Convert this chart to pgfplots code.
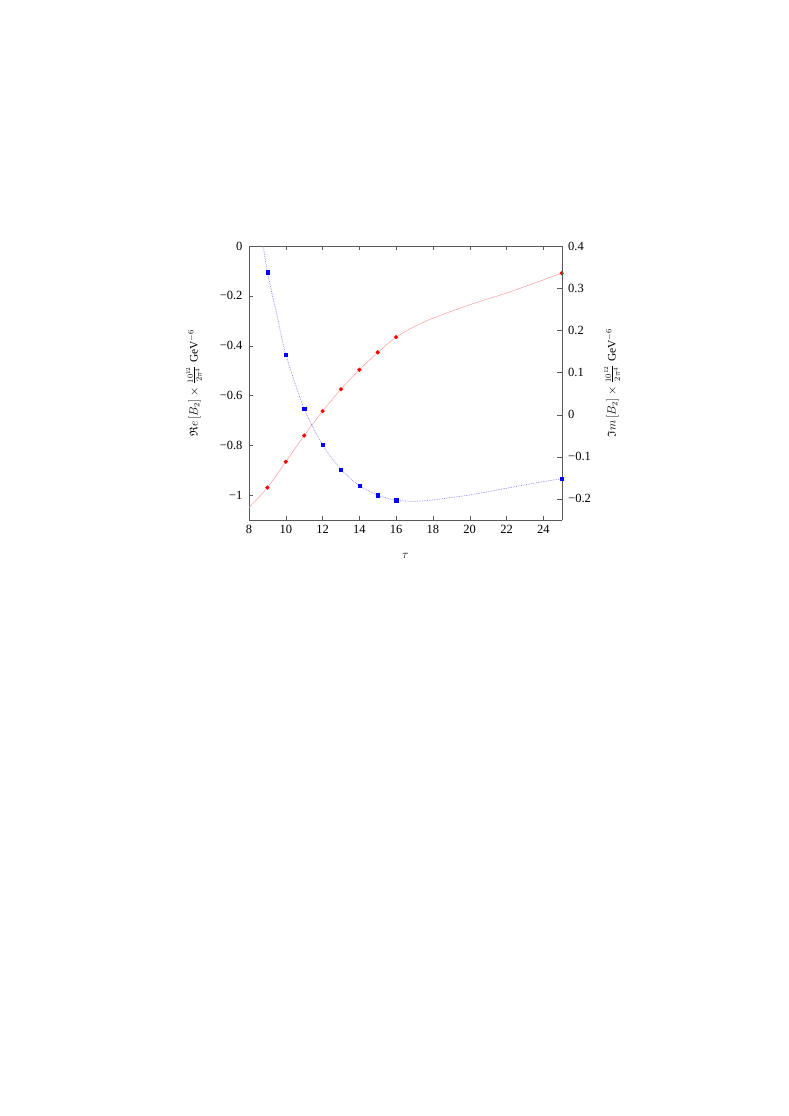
\documentclass[border=0pt]{standalone}
\usepackage{fontspec}
\setmainfont{Liberation Serif}
\usepackage{amssymb}
\usepackage{pgfplots}
\pgfplotsset{compat=1.18}
\pgfplotsset{
  common/.style={
    at={(249pt,596pt)}, anchor=south west, scale only axis,
    width=312.7pt, height=274pt,
    xmin=8, xmax=25,
    axis line style={black!65}, tick style={black!65},
    tick label style={font=\fontsize{12.5}{14}\selectfont},
    label style={font=\fontsize{11.5}{13}\selectfont},
    /pgf/number format/assume math mode=true,
  }
}
\begin{document}
\begin{tikzpicture}
\path[use as bounding box] (0pt,0pt) rectangle (789pt,1116pt);
\begin{axis}[
  common,
  ymin=-1.1, ymax=0,
  axis y line*=left,
  xtick={8,10,...,24},
  xtick pos=both,
  ytick={-1,-0.8,-0.6,-0.4,-0.2,0},
  yticklabels={−1,−0.8,−0.6,−0.4,−0.2,0},
  yticklabel style={xshift=-3pt},
  xticklabel style={yshift=-2pt},
  xlabel={\fontsize{12.5}{14}\selectfont$\tau$},
  xlabel style={at={(axis description cs:0.5,-0.131)}, anchor=center},
  ylabel={$\mathfrak{R}e\,[B_2]\times\frac{10^{12}}{2\pi^4}$ GeV$^{-6}$},
  ylabel style={at={(axis description cs:-0.176,0.5)}, anchor=center, rotate=0},
]
\addplot[red!45, thin, smooth, no marks] coordinates {
(8,-1.05)(9,-0.970)(10,-0.866)(11,-0.761)(12,-0.663)(13,-0.575)(14,-0.497)(15,-0.427)(16,-0.366)(17,-0.323)(18,-0.290)(20,-0.236)(22,-0.189)(24,-0.136)(25,-0.109)};
\addplot[only marks, mark=*, mark size=1.9pt, red] coordinates {
(9,-0.970)(10,-0.866)(11,-0.761)(12,-0.663)(13,-0.575)(14,-0.497)(15,-0.427)(16,-0.366)(25,-0.109)};
\end{axis}
\begin{axis}[
  common,
  ymin=-0.25, ymax=0.4,
  axis y line*=right,
  axis x line=none,
  ytick={-0.2,-0.1,0,0.1,0.2,0.3,0.4},
  yticklabels={−0.2,−0.1,0,0.1,0.2,0.3,0.4},
  yticklabel style={xshift=3pt},
  ylabel={$\mathfrak{I}m\,[B_2]\times\frac{10^{12}}{2\pi^4}$ GeV$^{-6}$},
  ylabel style={at={(axis description cs:1.161,0.5)}, anchor=center, rotate=0},
]
\addplot[blue!50, line width=0.7pt, smooth, dash pattern=on 0.7pt off 1pt, no marks] coordinates {
(8.78,0.4)(9,0.338)(9.5,0.240)(10,0.143)(11,0.014)(12,-0.071)(13,-0.130)(14,-0.168)(15,-0.191)(16,-0.203)(17,-0.2055)(18,-0.2023)(20,-0.1905)(22,-0.1746)(24,-0.159)(25,-0.1525)};
\addplot[only marks, mark=square*, mark size=1.6pt, blue] coordinates {
(9,0.338)(10,0.143)(11,0.014)(12,-0.071)(13,-0.130)(14,-0.168)(15,-0.191)(16,-0.203)(25,-0.1525)};
\end{axis}
\end{tikzpicture}
\end{document}
